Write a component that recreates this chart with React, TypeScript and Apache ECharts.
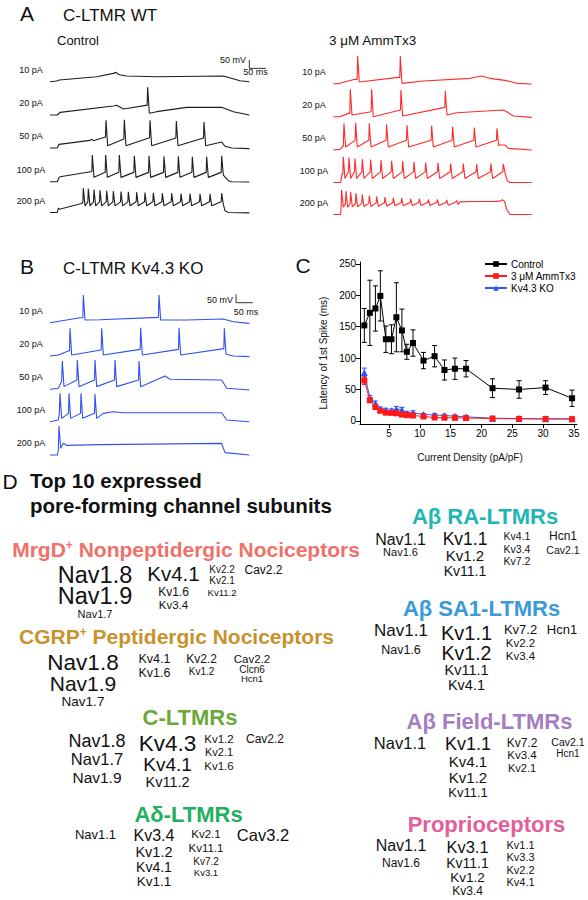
import React, { useEffect, useRef } from "react";
import * as echarts from "echarts";

const FONT = "'Liberation Sans', Arial, Helvetica, sans-serif";

// ---------------- Panel C data ----------------
const CURRENT_DENSITY = [1.0, 1.9, 2.8, 3.6, 4.5, 5.4, 6.2, 7.1, 7.9, 8.9, 10.6, 12.4, 14.0, 15.7, 17.5, 21.8, 26.1, 30.4, 34.7];
const CONTROL_LATENCY = [152, 172, 179, 199, 130, 130, 165, 144, 110, 124, 96, 103, 81, 83, 83, 52, 50, 53, 36];
const CONTROL_SEM = [27, 52, 36, 40, 21, 23, 55, 34, 12, 21, 13, 17, 16, 17, 13, 15, 14, 11, 13];
const AMMTX3_LATENCY = [64, 33, 22, 16, 13, 12.7, 12, 10, 9, 8.5, 7, 5.3, 5, 4.8, 4.5, 3.7, 3.2, 3, 2.7];
const AMMTX3_SEM = [6, 4, 3, 2, 2, 2, 2, 2, 2, 1.5, 1.5, 1, 1, 1, 1, 1, 1, 1, 1];
const KO_LATENCY = [77, 36.6, 27.6, 19, 17, 16, 19, 17.5, 12, 13, 10, 9.5, 8.5, 7.4, 6.4, 4.2, 3.7, 3.2, 3.2];
const KO_SEM = [7, 4, 4, 3, 3, 3, 4, 4, 3, 3, 2, 2, 2, 2, 2, 1, 1, 1, 1];
const Y_TICKS = [0, 50, 100, 150, 200, 250];
const X_TICKS = [5, 10, 15, 20, 25, 30, 35];
const SERIES_NAMES = ["Control", "3 \u03bcM AmmTx3", "Kv4.3 KO"];

// ---------------- Traces (t in ms, v in mV); 4-tuples = spike [t, threshold, peak, trough] ----------------
const STEP_LABELS = ["10 pA", "20 pA", "50 pA", "100 pA", "200 pA"];

const CTRL_10 = [[0, -70], [20, -66], [28, -60], [140, -40], [190, -20], [198, -14], [208, -28], [230, -36], [320, -40], [520, -36], [570, -64], [598, -70]];
const CTRL_20 = [[0, -70], [22, -70], [30, -54], [190, -16], [200, -12], [220, -34], [288, -12], [293, -12, 96, -60], [320, -50], [410, -24], [515, -24], [550, -50], [598, -70]];
const CTRL_50 = [[0, -70], [22, -70], [27, -48], [120, -24], [125, -18], [130, -26], [168, -4, 96, -56], [223, -16, 100, -56], [300, -8, 96, -56], [379, -10, 92, -56], [462, -10, 86, -56], [515, -34], [525, -60], [545, -70], [598, -74]];
const CTRL_100 = [[0, -70], [22, -70], [27, -44], [30, -40], [122, -10], [127, -10, 90, -44], [167, -14, 90, -44], [208, -14, 90, -44], [253, -14, 86, -44], [297, -14, 86, -44], [342, -14, 82, -44], [385, -14, 82, -44], [427, -14, 80, -44], [470, -14, 80, -44], [515, -14, 86, -30], [535, -64], [545, -70], [598, -72]];
const CTRL_200 = [[0, -70], [22, -70], [25, -44], [28, -50], [95, -16], [100, -10, 76, -30], [115, -6, 72, -30], [132, -6, 68, -30], [150, -6, 64, -30], [170, -6, 60, -30], [190, -6, 58, -30], [213, -6, 56, -30], [235, -6, 54, -30], [260, -6, 52, -30], [285, -6, 50, -30], [310, -6, 48, -30], [337, -6, 46, -30], [365, -6, 46, -30], [393, -6, 44, -30], [420, -6, 44, -30], [450, -6, 42, -30], [480, -6, 42, -30], [515, -6, 46, -20], [525, -60], [535, -70], [598, -72]];

const AMM_10 = [[0, -70], [20, -66], [65, -42], [73, -42, 98, -58], [195, -30], [201, -30, 98, -66], [270, -52], [410, -36], [445, -22], [470, -36], [520, -50], [550, -66], [595, -70]];
const AMM_20 = [[0, -70], [20, -70], [45, -50], [51, -50, 94, -60], [115, -40, 94, -70], [203, -30, 90, -66], [336, -14, 84, -60], [370, -46], [510, -30], [520, -40], [540, -66], [595, -74]];
const AMM_50 = [[0, -70], [20, -66], [30, -46], [32, -46, 90, -52], [67, -12, 94, -52], [108, -12, 90, -52], [160, -12, 84, -52], [221, -12, 80, -52], [295, -12, 76, -52], [358, -12, 70, -52], [423, -12, 64, -52], [491, -12, 60, -44], [500, -40], [515, -40], [525, -60], [595, -70]];
const AMM_100 = [[0, -70], [22, -70], [26, -20], [30, -20, 84, -46], [47, -6, 80, -46], [65, -6, 74, -46], [87, -6, 70, -46], [112, -6, 68, -46], [143, -6, 64, -46], [175, -6, 60, -46], [208, -6, 58, -46], [242, -6, 54, -46], [277, -6, 50, -46], [314, -6, 48, -46], [352, -6, 44, -46], [390, -6, 44, -46], [430, -6, 40, -46], [473, -6, 44, -46], [510, -6, 42, -10], [522, -60], [530, -70], [595, -70]];
const AMM_200 = [[0, -70], [22, -70], [25, -20, 78, -26], [38, -6, 70, -26], [52, -4, 64, -24], [68, -4, 58, -24], [87, -2, 50, -22], [108, -2, 44, -22], [130, 0, 38, -20], [155, 0, 34, -20], [180, 2, 30, -18], [205, 2, 28, -18], [232, 2, 24, -18], [258, 4, 24, -16], [285, 4, 20, -16], [312, 4, 20, -16], [340, 4, 18, -14], [370, 6, 14, -10], [380, 6], [420, 8], [480, 8], [500, 10], [508, 18], [514, 8], [520, -40], [530, -70], [595, -70]];

const KO_10 = [[0, -70], [50, -54], [90, -40], [100, -40, 96, -54], [150, -52], [325, -38], [327, -38, 96, -54], [410, -54], [520, -48], [550, -64], [598, -74]];
const KO_20 = [[0, -70], [25, -64], [55, -40], [60, -40, 96, -64], [155, -34, 96, -64], [272, -30, 100, -64], [387, -30, 100, -64], [523, -26, 96, -60], [550, -70], [598, -74]];
const KO_50 = [[0, -70], [25, -64], [35, -20], [37, -20, 100, -54], [82, -14, 106, -54], [135, -14, 106, -54], [195, -14, 106, -54], [267, -14, 100, -54], [340, 6], [345, 10], [360, -10], [515, -14], [530, -64], [598, -74]];
const KO_100 = [[0, -70], [25, -60], [28, -20], [30, -20, 100, -50], [57, -20, 100, -50], [93, -20, 100, -50], [135, -20, 96, -50], [160, -20], [190, -10], [220, -16], [515, -16], [530, -60], [598, -70]];
const KO_200 = [[0, -70], [22, -70], [25, -40], [27, -40, 104, -30], [40, 0], [50, -12], [150, -8], [515, 0], [525, -56], [598, -70]];

const SCALE_BAR_CTRL = [[598, 60], [598, 10], [648, 10]];
const SCALE_BAR_KO = [[558, 100], [558, 50], [608, 50]];

// ---------------- Panel D data ----------------
const MRGD_GENES = [["Nav1.8", "Nav1.9", "Nav1.7"], ["Kv4.1", "Kv1.6", "Kv3.4"], ["Kv2.2", "Kv2.1", "Kv11.2"], ["Cav2.2"]];
const CGRP_GENES = [["Nav1.8", "Nav1.9", "Nav1.7"], ["Kv4.1", "Kv1.6"], ["Kv2.2", "Kv1.2"], ["Cav2.2", "Clcn6", "Hcn1"]];
const CLTMR_GENES = [["Nav1.8", "Nav1.7", "Nav1.9"], ["Kv4.3", "Kv4.1", "Kv11.2"], ["Kv1.2", "Kv2.1", "Kv1.6"], ["Cav2.2"]];
const ADELTA_GENES = [["Nav1.1"], ["Kv3.4", "Kv1.2", "Kv4.1", "Kv1.1"], ["Kv2.1", "Kv11.1", "Kv7.2", "Kv3.1"], ["Cav3.2"]];
const ABRA_GENES = [["Nav1.1", "Nav1.6"], ["Kv1.1", "Kv1.2", "Kv11.1"], ["Kv4.1", "Kv3.4", "Kv7.2"], ["Hcn1", "Cav2.1"]];
const ABSA1_GENES = [["Nav1.1", "Nav1.6"], ["Kv1.1", "Kv1.2", "Kv11.1", "Kv4.1"], ["Kv7.2", "Kv2.2", "Kv3.4"], ["Hcn1"]];
const ABFIELD_GENES = [["Nav1.1"], ["Kv1.1", "Kv4.1", "Kv1.2", "Kv11.1"], ["Kv7.2", "Kv3.4", "Kv2.1"], ["Cav2.1", "Hcn1"]];
const PROPRIO_GENES = [["Nav1.1", "Nav1.6"], ["Kv3.1", "Kv11.1", "Kv1.2", "Kv3.4"], ["Kv1.1", "Kv3.3", "Kv2.2", "Kv4.1"]];

// layout / styles (positions & sizes)
const TRACE_PANELS = [
  { traces: [CTRL_10, CTRL_20, CTRL_50, CTRL_100, CTRL_200], x0: 50, labelX: 31, baselines: [81.7, 115, 148, 181.7, 212.5], color: "#1e1e1e" },
  { traces: [AMM_10, AMM_20, AMM_50, AMM_100, AMM_200], x0: 333.3, labelX: 314, baselines: [84, 116.7, 150, 182.5, 214.5], color: "#ff2a2a" },
  { traces: [KO_10, KO_20, KO_50, KO_100, KO_200], x0: 50, labelX: 31, baselines: [322.7, 356, 389.3, 421.7, 455], color: "#3050f0" },
];

const GROUPS = [
  { genes: MRGD_GENES, color: "#f0706a", title: ["MrgD", "+", " Nonpeptidergic Nociceptors"], tx: 186, ty: 549, ts: 21,
    cols: [{ x: 95, ys: [574.5, 596, 613.5], fs: [23.5, 23.5, 11] }, { x: 173.5, ys: [573.5, 591.7, 604.5], fs: [20.5, 12, 11.5] }, { x: 222, ys: [569, 580.7, 592.3], fs: [10, 10, 9.5] }, { x: 263.5, ys: [570], fs: [12] }] },
  { genes: CGRP_GENES, color: "#c8922c", title: ["CGRP", "+", " Peptidergic Nociceptors"], tx: 176.5, ty: 636.7, ts: 21,
    cols: [{ x: 83, ys: [662, 683, 701.5], fs: [22.5, 21, 13.5] }, { x: 154.5, ys: [659, 673], fs: [12.5, 12.5] }, { x: 201.5, ys: [658.7, 671.3], fs: [12, 10] }, { x: 252, ys: [658.5, 669, 678.8], fs: [11.5, 10, 9.5] }] },
  { genes: CLTMR_GENES, color: "#6aa83a", title: ["C-LTMRs"], tx: 190, ty: 717.7, ts: 22,
    cols: [{ x: 97, ys: [741, 759.3, 777.3], fs: [18, 16.5, 15.5] }, { x: 167.5, ys: [743, 764.3, 782], fs: [22.5, 19, 14.5] }, { x: 219, ys: [739, 752.3, 765.7], fs: [11.5, 11, 11.5] }, { x: 265, ys: [739], fs: [12] }] },
  { genes: ADELTA_GENES, color: "#22b060", title: ["A\u03b4-LTMRs"], tx: 188.5, ty: 814, ts: 22,
    cols: [{ x: 95.5, ys: [834.3], fs: [13] }, { x: 154, ys: [835.5, 851.7, 866.7, 881.2], fs: [16, 14.5, 14, 13.5] }, { x: 206, ys: [834, 847.7, 861, 872.5], fs: [11.5, 11.5, 10, 9.5] }, { x: 263, ys: [835], fs: [16.5] }] },
  { genes: ABRA_GENES, color: "#20b6b6", title: ["A\u03b2 RA-LTMRs"], tx: 485, ty: 516, ts: 22,
    cols: [{ x: 400.5, ys: [539, 552], fs: [16, 11] }, { x: 465, ys: [539, 555.2, 571], fs: [17.5, 15, 14] }, { x: 517, ys: [536, 549, 561], fs: [10.5, 10.5, 10.5] }, { x: 563, ys: [536, 550], fs: [12, 10.5] }] },
  { genes: ABSA1_GENES, color: "#3b9ad8", title: ["A\u03b2 SA1-LTMRs"], tx: 481.5, ty: 608.3, ts: 22,
    cols: [{ x: 401, ys: [630, 650], fs: [17, 12.5] }, { x: 466.5, ys: [632.5, 653, 670.2, 684.6], fs: [20, 19.5, 14.5, 14.5] }, { x: 520.5, ys: [629.3, 643.3, 655.9], fs: [13, 11.5, 11.5] }, { x: 562, ys: [629.3], fs: [13] }] },
  { genes: ABFIELD_GENES, color: "#a67cc2", title: ["A\u03b2 Field-LTMRs"], tx: 489.5, ty: 721, ts: 22,
    cols: [{ x: 400, ys: [743.3], fs: [16.5] }, { x: 468, ys: [744, 761.7, 777.3, 792], fs: [18, 15, 15, 13] }, { x: 522, ys: [742.5, 755, 767.9], fs: [12, 11.5, 11] }, { x: 568, ys: [741.5, 753.5], fs: [10.5, 10] }] },
  { genes: PROPRIO_GENES, color: "#e2609a", title: ["Proprioceptors"], tx: 486.5, ty: 824.3, ts: 22,
    cols: [{ x: 401, ys: [845.5, 862.5], fs: [16, 12] }, { x: 467.5, ys: [846.5, 863.3, 877.8, 891.3], fs: [16.5, 14, 13.5, 12] }, { x: 520.5, ys: [845, 856.9, 870, 881.9], fs: [11, 11, 11, 11] }] },
];

function expandTrace(trace: number[][]) {
  const out: number[][] = [];
  trace.forEach((p) => {
    if (p.length === 4) {
      out.push([p[0] - 1.5, p[1]], [p[0], p[2]], [p[0] + 5, p[3]]);
    } else out.push(p);
  });
  return out;
}

function txt(text: string, x: number, y: number, size: number, opts: any = {}) {
  const align = opts.align || "center";
  return {
    type: "text",
    x,
    y,
    rotation: opts.rotation || 0,
    silent: true,
    style: {
      text,
      fill: opts.color || "#111",
      fontSize: size,
      fontFamily: FONT,
      fontWeight: opts.bold ? "bold" : "normal",
      align,
      verticalAlign: "middle",
      textAlign: align,
      textVerticalAlign: "middle",
    },
  };
}

function buildOption() {
  const grids: any[] = [];
  const xAxes: any[] = [];
  const yAxes: any[] = [];
  const series: any[] = [];
  const graphic: any[] = [];

  TRACE_PANELS.forEach((panel, pi) => {
    panel.traces.forEach((tr, i) => {
      const idx = grids.length;
      const base = panel.baselines[i];
      grids.push({ left: panel.x0, top: base - 35, width: 700 / 3, height: 40 });
      xAxes.push({ gridIndex: idx, type: "value", min: 0, max: 700, show: false });
      yAxes.push({ gridIndex: idx, type: "value", min: -100, max: 140, show: false });
      series.push({
        type: "line",
        xAxisIndex: idx,
        yAxisIndex: idx,
        data: expandTrace(tr),
        symbol: "none",
        silent: true,
        clip: false,
        lineStyle: { color: panel.color, width: 1.1 },
      });
      graphic.push(txt(STEP_LABELS[i], panel.labelX, base - 12, 9));
      if (i === 0 && pi !== 1) {
        series.push({
          type: "line",
          xAxisIndex: idx,
          yAxisIndex: idx,
          data: pi === 0 ? SCALE_BAR_CTRL : SCALE_BAR_KO,
          symbol: "none",
          silent: true,
          clip: false,
          lineStyle: { color: "#333", width: 1 },
        });
      }
    });
  });

  // Panel C
  const ci = grids.length;
  grids.push({ left: 360, top: 262, width: 217, height: 162 });
  xAxes.push({
    gridIndex: ci, type: "value", min: 0.3, max: 35.5,
    axisLine: { show: true, onZero: false, lineStyle: { color: "#000", width: 1 } },
    axisTick: { show: true, customValues: X_TICKS, length: 4, lineStyle: { color: "#000" } },
    axisLabel: { customValues: X_TICKS, fontSize: 10, color: "#000", fontFamily: FONT, margin: 4 },
    splitLine: { show: false },
  });
  yAxes.push({
    gridIndex: ci, type: "value", min: -5, max: 253,
    axisLine: { show: true, onZero: false, lineStyle: { color: "#000", width: 1 } },
    axisTick: { show: true, customValues: Y_TICKS, length: 4, lineStyle: { color: "#000" } },
    axisLabel: { customValues: Y_TICKS, fontSize: 10, color: "#000", fontFamily: FONT, margin: 4 },
    splitLine: { show: false },
  });

  const errSeries = (name: string, ys: number[], errs: number[], color: string) => ({
    type: "custom",
    name,
    xAxisIndex: ci,
    yAxisIndex: ci,
    silent: true,
    z: 1,
    data: CURRENT_DENSITY.map((x, i) => [x, ys[i] - errs[i], ys[i] + errs[i]]),
    encode: { x: 0, y: [1, 2] },
    renderItem: (params: any, api: any) => {
      const x = api.value(0);
      const lo = api.coord([x, api.value(1)]);
      const hi = api.coord([x, api.value(2)]);
      const cap = 2.5;
      const st = { stroke: color, lineWidth: 1 };
      return {
        type: "group",
        children: [
          { type: "line", shape: { x1: lo[0], y1: lo[1], x2: hi[0], y2: hi[1] }, style: st },
          { type: "line", shape: { x1: lo[0] - cap, y1: lo[1], x2: lo[0] + cap, y2: lo[1] }, style: st },
          { type: "line", shape: { x1: hi[0] - cap, y1: hi[1], x2: hi[0] + cap, y2: hi[1] }, style: st },
        ],
      };
    },
  });
  const lineSeries = (name: string, ys: number[], color: string, symbol: string, size: number, z: number) => ({
    type: "line",
    name,
    xAxisIndex: ci,
    yAxisIndex: ci,
    data: CURRENT_DENSITY.map((x, i) => [x, ys[i]]),
    symbol,
    symbolSize: size,
    showAllSymbol: true,
    z,
    itemStyle: { color },
    lineStyle: { color, width: 1 },
  });
  series.push(errSeries("err-ctrl", CONTROL_LATENCY, CONTROL_SEM, "#000"));
  series.push(errSeries("err-ko", KO_LATENCY, KO_SEM, "#3050f0"));
  series.push(errSeries("err-amm", AMMTX3_LATENCY, AMMTX3_SEM, "#ff2020"));
  series.push(lineSeries(SERIES_NAMES[0], CONTROL_LATENCY, "#000", "rect", 6, 3));
  series.push(lineSeries(SERIES_NAMES[2], KO_LATENCY, "#2f55ff", "triangle", 7, 3));
  series.push(lineSeries(SERIES_NAMES[1], AMMTX3_LATENCY, "#ff1a1a", "rect", 6, 4));

  graphic.push(txt("Latency of 1st Spike (ms)", 323, 353, 10, { rotation: Math.PI / 2 }));
  graphic.push(txt("Current Density (pA/pF)", 470, 457, 10));

  // Panel headings
  graphic.push(txt("A", 27, 13, 21, { align: "center" }));
  graphic.push(txt("C-LTMR WT", 63, 15, 17, { align: "left" }));
  graphic.push(txt("Control", 57, 40, 13, { align: "left" }));
  graphic.push(txt("3 \u03bcM AmmTx3", 329, 40.7, 13.5, { align: "left" }));
  graphic.push(txt("50 mV", 246, 60, 9, { align: "right" }));
  graphic.push(txt("50 ms", 255.5, 72, 9));
  graphic.push(txt("B", 27, 266.7, 21));
  graphic.push(txt("C-LTMR Kv4.3 KO", 63, 268, 17, { align: "left" }));
  graphic.push(txt("50 mV", 233, 300, 9, { align: "right" }));
  graphic.push(txt("50 ms", 246, 311.5, 9));
  graphic.push(txt("C", 303, 265, 21));
  graphic.push(txt("D", 10, 481.7, 21));
  graphic.push(txt("Top 10 expressed", 30, 480, 20.5, { align: "left", bold: true }));
  graphic.push(txt("pore-forming channel subunits", 30, 505, 20.5, { align: "left", bold: true }));

  GROUPS.forEach((g) => {
    if (g.title.length === 3) {
      graphic.push({
        type: "text",
        x: g.tx,
        y: g.ty,
        silent: true,
        style: {
          text: `{a|${g.title[0]}}{s|${g.title[1]}}{a|${g.title[2]}}`,
          align: "center",
          verticalAlign: "middle",
          textAlign: "center",
          textVerticalAlign: "middle",
          rich: {
            a: { fontSize: g.ts, fontWeight: "bold", fontFamily: FONT, fill: g.color, color: g.color },
            s: { fontSize: 12, fontWeight: "bold", fontFamily: FONT, fill: g.color, color: g.color, verticalAlign: "top" },
          },
        },
      });
    } else {
      graphic.push(txt(g.title[0], g.tx, g.ty, g.ts, { bold: true, color: g.color }));
    }
    g.genes.forEach((col, ci2) => {
      const lay = g.cols[ci2];
      col.forEach((gene, k) => {
        graphic.push(txt(gene, lay.x, lay.ys[k], lay.fs[k], { color: "#111" }));
      });
    });
  });

  return {
    animation: false,
    backgroundColor: "#fff",
    textStyle: { fontFamily: FONT },
    grid: grids,
    xAxis: xAxes,
    yAxis: yAxes,
    legend: {
      data: SERIES_NAMES,
      orient: "vertical",
      left: 484,
      top: 259,
      itemWidth: 22,
      itemHeight: 7,
      itemGap: 2,
      padding: 0,
      textStyle: { fontSize: 10, color: "#000", fontFamily: FONT, padding: [0, 0, 0, -1] },
    },
    series,
    graphic,
  };
}

export default function App() {
  const ref = useRef<HTMLDivElement>(null);
  useEffect(() => {
    if (!ref.current) return;
    const chart = echarts.init(ref.current, null, { renderer: "svg" });
    chart.setOption(buildOption() as any);
    return () => chart.dispose();
  }, []);
  return (
    <div
      ref={ref}
      style={{ position: "absolute", left: 0, top: 0, width: 588, height: 900, background: "#fff" }}
    />
  );
}
